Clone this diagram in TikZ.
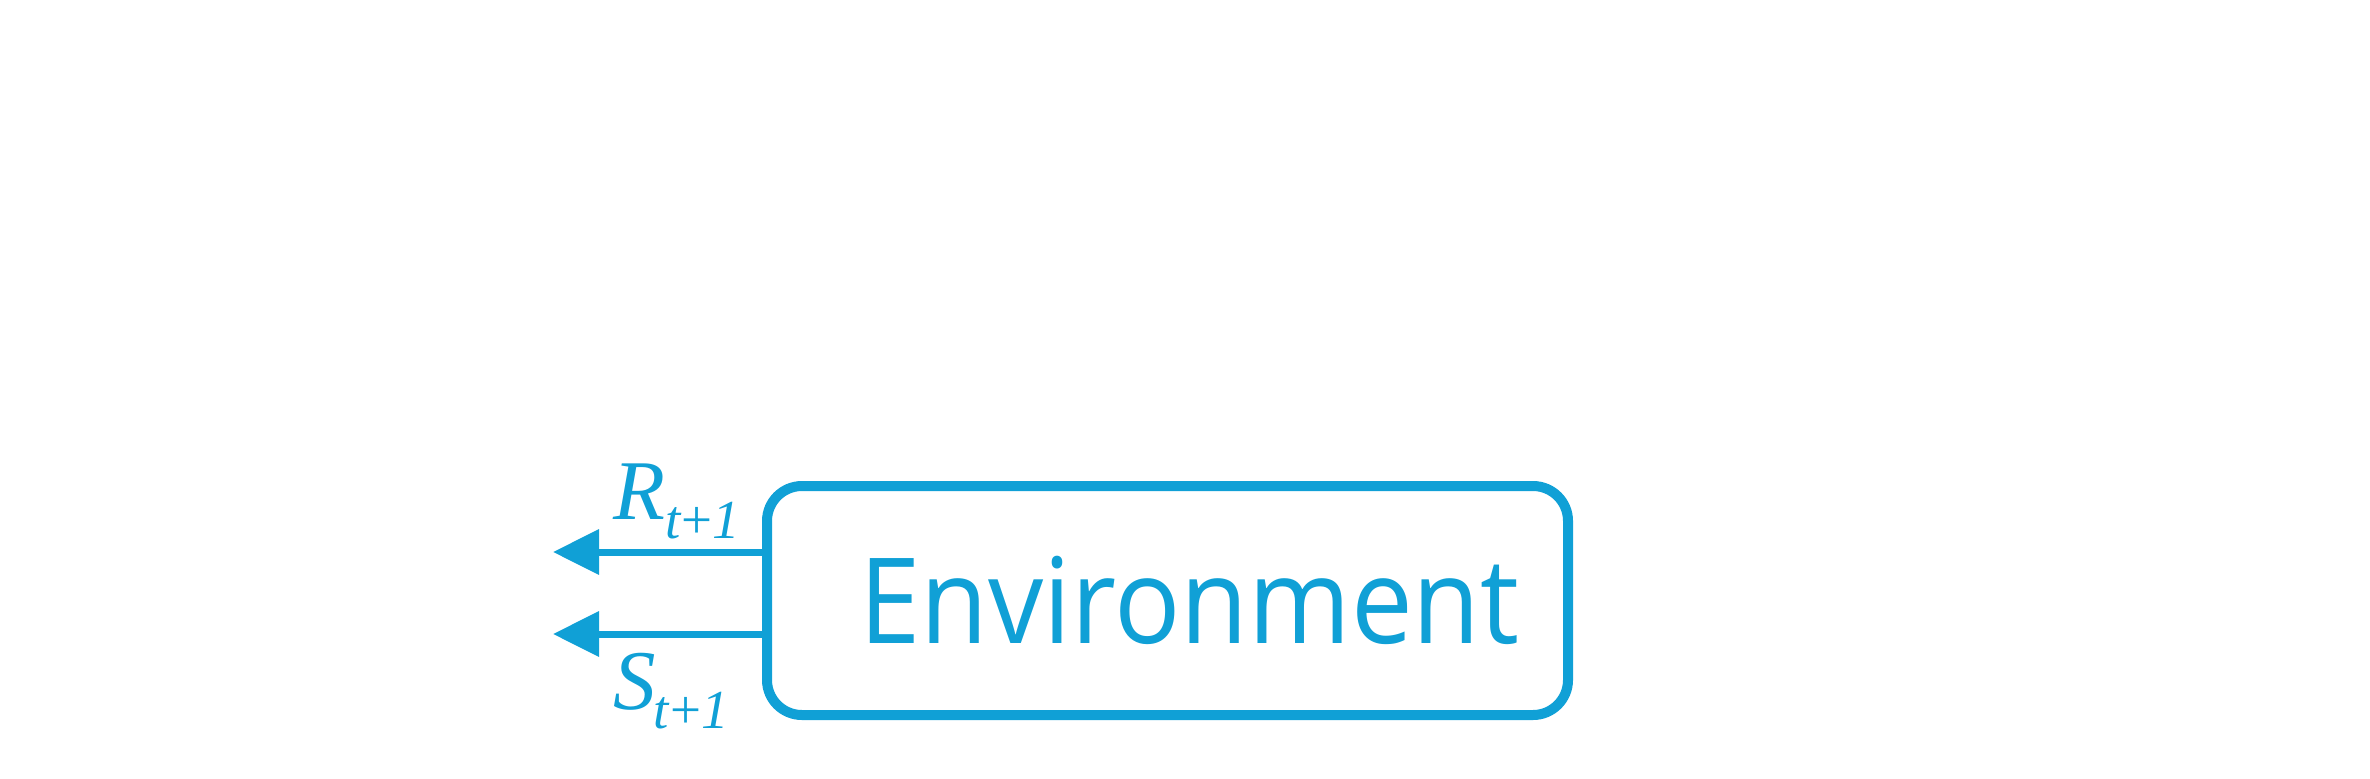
\documentclass[tikz,border=0pt]{standalone}
\usepackage{fontspec}
\setmainfont{Liberation Serif}
\newfontfamily\envfont[FakeStretch=0.926]{Open Sans}
\usetikzlibrary{arrows.meta}
\definecolor{rlblue}{RGB}{16,160,214}
\begin{document}
\begin{tikzpicture}[x=0.5pt,y=-0.5pt,
  envbox/.style={draw=rlblue, line width=5pt, rounded corners=17.5pt,
    minimum width=400.5pt, minimum height=114.5pt, inner sep=0pt, outer sep=0pt,
    text=rlblue, font=\envfont\fontsize{59.5pt}{60pt}\selectfont},
  sigarrow/.style={draw=rlblue, line width=3.5pt, -{Triangle[length=23pt,width=22pt]}},
  siglabel/.style={text=rlblue, inner sep=0pt, anchor=base west}
]
\useasboundingbox (0,0) rectangle (2370,778);
\node[envbox] (env) at (1167.5,600.5) {\kern22pt Environment};
\coordinate (rend) at (553,552);
\coordinate (send) at (553,634);
\draw[sigarrow] (env.west |- rend) -- (rend);
\draw[sigarrow] (env.west |- send) -- (send);
\node[siglabel] (rlab) at (613,519) {\fontsize{42.5pt}{44pt}\selectfont\textit{R}\raisebox{-9.5pt}{\fontsize{27.5pt}{28pt}\selectfont\textit{t}+\textit{1}}};
\node[siglabel] (slab) at (613,709) {\fontsize{42.5pt}{44pt}\selectfont\textit{S}\kern-1pt\raisebox{-9.5pt}{\fontsize{27.5pt}{28pt}\selectfont\textit{t}+\textit{1}}};
\end{tikzpicture}
\end{document}
